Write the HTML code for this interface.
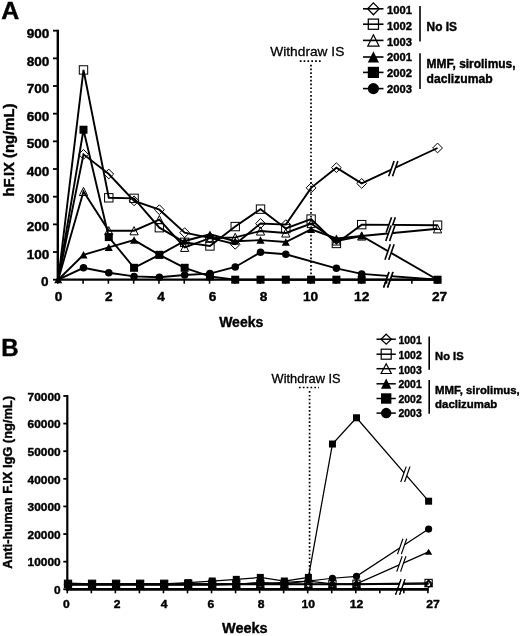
<!DOCTYPE html>
<html><head><meta charset="utf-8"><title>Figure</title>
<style>html,body{margin:0;padding:0;background:#fff}svg{display:block}</style>
</head><body>
<svg width="520" height="636" viewBox="0 0 520 636">
<rect width="520" height="636" fill="#fff"/>
<path d="M299.80 61.10H321.20" stroke="#000" stroke-width="1.7" stroke-dasharray="1.7 2.13" fill="none"/>
<path d="M311.00 64.70V279.00" stroke="#000" stroke-width="1.7" stroke-dasharray="1.7 2.08" fill="none"/>
<polyline points="58.20,279.70 83.49,154.35 108.78,174.00 134.07,200.84 159.36,209.69 184.65,232.66 209.94,237.92 235.23,244.28 260.52,223.53 285.81,224.64 311.10,187.84 336.39,167.64 361.68,183.41 437.55,147.99" fill="none" stroke="#000" stroke-width="1.9" stroke-linejoin="miter"/>
<polyline points="58.20,279.70 83.49,69.96 108.78,197.80 134.07,198.35 159.36,227.68 184.65,242.35 209.94,245.94 235.23,226.57 260.52,209.14 285.81,228.51 311.10,219.10 336.39,243.45 361.68,224.64 437.55,225.19" fill="none" stroke="#000" stroke-width="1.9" stroke-linejoin="miter"/>
<polyline points="58.20,279.70 83.49,191.43 108.78,230.72 134.07,230.72 159.36,219.66 184.65,247.33 209.94,238.19 235.23,237.36 260.52,231.00 285.81,232.94 311.10,223.53 336.39,240.96 361.68,235.98 437.55,228.79" fill="none" stroke="#000" stroke-width="1.9" stroke-linejoin="miter"/>
<polyline points="58.20,279.70 83.49,254.80 108.78,247.33 134.07,240.13 159.36,254.80 184.65,240.96 209.94,234.32 235.23,241.24 260.52,240.13 285.81,242.07 311.10,229.34 336.39,238.47 361.68,235.98 437.55,279.70" fill="none" stroke="#000" stroke-width="1.9" stroke-linejoin="miter"/>
<polyline points="58.20,279.70 83.49,129.73 108.78,237.09 134.07,267.80 159.36,254.80 184.65,267.80 209.94,276.38 235.23,279.70 260.52,279.70 285.81,279.70 311.10,279.70 336.39,279.70 361.68,279.70 437.55,279.70" fill="none" stroke="#000" stroke-width="1.9" stroke-linejoin="miter"/>
<polyline points="58.20,279.70 83.49,267.80 108.78,272.78 134.07,276.38 159.36,277.21 184.65,275.00 209.94,273.61 235.23,266.97 260.52,252.31 285.81,254.24 336.39,268.36 361.68,273.89 437.55,279.70" fill="none" stroke="#000" stroke-width="1.9" stroke-linejoin="miter"/>
<path d="M394.10 160.95L397.90 160.95L392.50 176.35L388.70 176.35Z" fill="#fff"/><path d="M394.10 160.95L388.70 176.35M397.90 160.95L392.50 176.35" stroke="#000" stroke-width="1.615" fill="none"/>
<path d="M391.57 217.15L395.37 217.15L389.97 232.55L386.17 232.55Z" fill="#fff"/><path d="M391.57 217.15L386.17 232.55M395.37 217.15L389.97 232.55" stroke="#000" stroke-width="1.615" fill="none"/>
<path d="M391.19 225.56L394.99 225.56L389.59 240.96L385.79 240.96Z" fill="#fff"/><path d="M391.19 225.56L385.79 240.96M394.99 225.56L389.59 240.96" stroke="#000" stroke-width="1.615" fill="none"/>
<path d="M390.34 244.34L394.14 244.34L388.74 259.74L384.94 259.74Z" fill="#fff"/><path d="M390.34 244.34L384.94 259.74M394.14 244.34L388.74 259.74" stroke="#000" stroke-width="1.615" fill="none"/>
<path d="M389.10 272.00L392.90 272.00L387.50 287.40L383.70 287.40Z" fill="#fff"/><path d="M389.10 272.00L383.70 287.40M392.90 272.00L387.50 287.40" stroke="#000" stroke-width="1.615" fill="none"/>
<path d="M389.10 272.00L392.90 272.00L387.50 287.40L383.70 287.40Z" fill="#fff"/><path d="M389.10 272.00L383.70 287.40M392.90 272.00L387.50 287.40" stroke="#000" stroke-width="1.615" fill="none"/>
<path d="M83.49 149.45L88.39 154.35L83.49 159.25L78.59 154.35Z" fill="none" stroke="#000" stroke-width="1.0"/>
<path d="M108.78 169.10L113.68 174.00L108.78 178.90L103.88 174.00Z" fill="none" stroke="#000" stroke-width="1.0"/>
<path d="M134.07 195.94L138.97 200.84L134.07 205.74L129.17 200.84Z" fill="none" stroke="#000" stroke-width="1.0"/>
<path d="M159.36 204.79L164.26 209.69L159.36 214.59L154.46 209.69Z" fill="none" stroke="#000" stroke-width="1.0"/>
<path d="M184.65 227.76L189.55 232.66L184.65 237.56L179.75 232.66Z" fill="none" stroke="#000" stroke-width="1.0"/>
<path d="M209.94 233.02L214.84 237.92L209.94 242.82L205.04 237.92Z" fill="none" stroke="#000" stroke-width="1.0"/>
<path d="M235.23 239.38L240.13 244.28L235.23 249.18L230.33 244.28Z" fill="none" stroke="#000" stroke-width="1.0"/>
<path d="M260.52 218.63L265.42 223.53L260.52 228.43L255.62 223.53Z" fill="none" stroke="#000" stroke-width="1.0"/>
<path d="M285.81 219.74L290.71 224.64L285.81 229.54L280.91 224.64Z" fill="none" stroke="#000" stroke-width="1.0"/>
<path d="M311.10 182.94L316.00 187.84L311.10 192.74L306.20 187.84Z" fill="none" stroke="#000" stroke-width="1.0"/>
<path d="M336.39 162.74L341.29 167.64L336.39 172.54L331.49 167.64Z" fill="none" stroke="#000" stroke-width="1.0"/>
<path d="M361.68 178.51L366.58 183.41L361.68 188.31L356.78 183.41Z" fill="none" stroke="#000" stroke-width="1.0"/>
<path d="M437.55 143.09L442.45 147.99L437.55 152.89L432.65 147.99Z" fill="none" stroke="#000" stroke-width="1.0"/>
<rect x="79.29" y="65.76" width="8.40" height="8.40" fill="none" stroke="#000" stroke-width="1.0"/>
<rect x="104.58" y="193.60" width="8.40" height="8.40" fill="none" stroke="#000" stroke-width="1.0"/>
<rect x="129.87" y="194.15" width="8.40" height="8.40" fill="none" stroke="#000" stroke-width="1.0"/>
<rect x="155.16" y="223.48" width="8.40" height="8.40" fill="none" stroke="#000" stroke-width="1.0"/>
<rect x="180.45" y="238.15" width="8.40" height="8.40" fill="none" stroke="#000" stroke-width="1.0"/>
<rect x="205.74" y="241.74" width="8.40" height="8.40" fill="none" stroke="#000" stroke-width="1.0"/>
<rect x="231.03" y="222.37" width="8.40" height="8.40" fill="none" stroke="#000" stroke-width="1.0"/>
<rect x="256.32" y="204.94" width="8.40" height="8.40" fill="none" stroke="#000" stroke-width="1.0"/>
<rect x="281.61" y="224.31" width="8.40" height="8.40" fill="none" stroke="#000" stroke-width="1.0"/>
<rect x="306.90" y="214.90" width="8.40" height="8.40" fill="none" stroke="#000" stroke-width="1.0"/>
<rect x="332.19" y="239.25" width="8.40" height="8.40" fill="none" stroke="#000" stroke-width="1.0"/>
<rect x="357.48" y="220.44" width="8.40" height="8.40" fill="none" stroke="#000" stroke-width="1.0"/>
<rect x="433.35" y="220.99" width="8.40" height="8.40" fill="none" stroke="#000" stroke-width="1.0"/>
<path d="M83.49 187.33L87.59 195.53L79.39 195.53Z" fill="none" stroke="#000" stroke-width="1.0"/>
<path d="M108.78 226.62L112.88 234.82L104.68 234.82Z" fill="none" stroke="#000" stroke-width="1.0"/>
<path d="M134.07 226.62L138.17 234.82L129.97 234.82Z" fill="none" stroke="#000" stroke-width="1.0"/>
<path d="M159.36 215.56L163.46 223.76L155.26 223.76Z" fill="none" stroke="#000" stroke-width="1.0"/>
<path d="M184.65 243.23L188.75 251.43L180.55 251.43Z" fill="none" stroke="#000" stroke-width="1.0"/>
<path d="M209.94 234.09L214.04 242.29L205.84 242.29Z" fill="none" stroke="#000" stroke-width="1.0"/>
<path d="M235.23 233.26L239.33 241.46L231.13 241.46Z" fill="none" stroke="#000" stroke-width="1.0"/>
<path d="M260.52 226.90L264.62 235.10L256.42 235.10Z" fill="none" stroke="#000" stroke-width="1.0"/>
<path d="M285.81 228.84L289.91 237.04L281.71 237.04Z" fill="none" stroke="#000" stroke-width="1.0"/>
<path d="M311.10 219.43L315.20 227.63L307.00 227.63Z" fill="none" stroke="#000" stroke-width="1.0"/>
<path d="M336.39 236.86L340.49 245.06L332.29 245.06Z" fill="none" stroke="#000" stroke-width="1.0"/>
<path d="M361.68 231.88L365.78 240.08L357.58 240.08Z" fill="none" stroke="#000" stroke-width="1.0"/>
<path d="M437.55 224.69L441.65 232.89L433.45 232.89Z" fill="none" stroke="#000" stroke-width="1.0"/>
<path d="M58.20 275.80L62.25 283.30L54.15 283.30Z" fill="#000"/>
<path d="M83.49 250.90L87.54 258.40L79.44 258.40Z" fill="#000"/>
<path d="M108.78 243.43L112.83 250.93L104.73 250.93Z" fill="#000"/>
<path d="M134.07 236.23L138.12 243.73L130.02 243.73Z" fill="#000"/>
<path d="M159.36 250.90L163.41 258.40L155.31 258.40Z" fill="#000"/>
<path d="M184.65 237.06L188.70 244.56L180.60 244.56Z" fill="#000"/>
<path d="M209.94 230.42L213.99 237.92L205.89 237.92Z" fill="#000"/>
<path d="M235.23 237.34L239.28 244.84L231.18 244.84Z" fill="#000"/>
<path d="M260.52 236.23L264.57 243.73L256.47 243.73Z" fill="#000"/>
<path d="M285.81 238.17L289.86 245.67L281.76 245.67Z" fill="#000"/>
<path d="M311.10 225.44L315.15 232.94L307.05 232.94Z" fill="#000"/>
<path d="M336.39 234.57L340.44 242.07L332.34 242.07Z" fill="#000"/>
<path d="M361.68 232.08L365.73 239.58L357.63 239.58Z" fill="#000"/>
<path d="M437.55 275.80L441.60 283.30L433.50 283.30Z" fill="#000"/>
<rect x="79.49" y="125.73" width="8.00" height="8.00" fill="#000"/>
<rect x="104.78" y="233.09" width="8.00" height="8.00" fill="#000"/>
<rect x="130.07" y="263.80" width="8.00" height="8.00" fill="#000"/>
<rect x="155.36" y="250.80" width="8.00" height="8.00" fill="#000"/>
<rect x="180.65" y="263.80" width="8.00" height="8.00" fill="#000"/>
<rect x="205.94" y="272.38" width="8.00" height="8.00" fill="#000"/>
<rect x="231.23" y="275.70" width="8.00" height="8.00" fill="#000"/>
<rect x="256.52" y="275.70" width="8.00" height="8.00" fill="#000"/>
<rect x="281.81" y="275.70" width="8.00" height="8.00" fill="#000"/>
<rect x="307.10" y="275.70" width="8.00" height="8.00" fill="#000"/>
<rect x="332.39" y="275.70" width="8.00" height="8.00" fill="#000"/>
<rect x="357.68" y="275.70" width="8.00" height="8.00" fill="#000"/>
<rect x="433.55" y="275.70" width="8.00" height="8.00" fill="#000"/>
<circle cx="83.49" cy="267.80" r="3.75" fill="#000"/>
<circle cx="108.78" cy="272.78" r="3.75" fill="#000"/>
<circle cx="134.07" cy="276.38" r="3.75" fill="#000"/>
<circle cx="159.36" cy="277.21" r="3.75" fill="#000"/>
<circle cx="184.65" cy="275.00" r="3.75" fill="#000"/>
<circle cx="209.94" cy="273.61" r="3.75" fill="#000"/>
<circle cx="235.23" cy="266.97" r="3.75" fill="#000"/>
<circle cx="260.52" cy="252.31" r="3.75" fill="#000"/>
<circle cx="285.81" cy="254.24" r="3.75" fill="#000"/>
<circle cx="336.39" cy="268.36" r="3.75" fill="#000"/>
<circle cx="361.68" cy="273.89" r="3.75" fill="#000"/>
<circle cx="437.55" cy="279.70" r="3.75" fill="#000"/>
<path d="M57.80 29.77V280.80" stroke="#000" stroke-width="2.4" fill="none"/>
<path d="M56.60 279.70H441.00" stroke="#000" stroke-width="2.2" fill="none"/>
<path d="M53.00 279.70H57.80" stroke="#000" stroke-width="1.8"/>
<path d="M53.00 252.03H57.80" stroke="#000" stroke-width="1.8"/>
<path d="M53.00 224.36H57.80" stroke="#000" stroke-width="1.8"/>
<path d="M53.00 196.69H57.80" stroke="#000" stroke-width="1.8"/>
<path d="M53.00 169.02H57.80" stroke="#000" stroke-width="1.8"/>
<path d="M53.00 141.35H57.80" stroke="#000" stroke-width="1.8"/>
<path d="M53.00 113.68H57.80" stroke="#000" stroke-width="1.8"/>
<path d="M53.00 86.01H57.80" stroke="#000" stroke-width="1.8"/>
<path d="M53.00 58.34H57.80" stroke="#000" stroke-width="1.8"/>
<path d="M53.00 30.67H57.80" stroke="#000" stroke-width="1.8"/>
<path d="M57.80 279.70V283.70" stroke="#000" stroke-width="1.6"/>
<path d="M83.09 279.70V283.70" stroke="#000" stroke-width="1.6"/>
<path d="M108.38 279.70V283.70" stroke="#000" stroke-width="1.6"/>
<path d="M133.67 279.70V283.70" stroke="#000" stroke-width="1.6"/>
<path d="M158.96 279.70V283.70" stroke="#000" stroke-width="1.6"/>
<path d="M184.25 279.70V283.70" stroke="#000" stroke-width="1.6"/>
<path d="M209.54 279.70V283.70" stroke="#000" stroke-width="1.6"/>
<path d="M234.83 279.70V283.70" stroke="#000" stroke-width="1.6"/>
<path d="M260.12 279.70V283.70" stroke="#000" stroke-width="1.6"/>
<path d="M285.41 279.70V283.70" stroke="#000" stroke-width="1.6"/>
<path d="M310.70 279.70V283.70" stroke="#000" stroke-width="1.6"/>
<path d="M335.99 279.70V283.70" stroke="#000" stroke-width="1.6"/>
<path d="M361.28 279.70V283.70" stroke="#000" stroke-width="1.6"/>
<path d="M386.57 279.70V283.70" stroke="#000" stroke-width="1.6"/>
<path d="M411.86 279.70V283.70" stroke="#000" stroke-width="1.6"/>
<path d="M437.15 279.70V283.70" stroke="#000" stroke-width="1.6"/>
<text x="48.50" y="286.07" font-size="13.3" font-family="Liberation Sans, Arial, Helvetica, sans-serif" font-weight="bold" stroke="#000" stroke-width="0.4" stroke-linejoin="round" text-anchor="end" textLength="7.55" lengthAdjust="spacingAndGlyphs">0</text>
<text x="49.30" y="258.54" font-size="13.3" font-family="Liberation Sans, Arial, Helvetica, sans-serif" font-weight="bold" stroke="#000" stroke-width="0.4" stroke-linejoin="round" text-anchor="end" textLength="22.65" lengthAdjust="spacingAndGlyphs">100</text>
<text x="49.30" y="231.01" font-size="13.3" font-family="Liberation Sans, Arial, Helvetica, sans-serif" font-weight="bold" stroke="#000" stroke-width="0.4" stroke-linejoin="round" text-anchor="end" textLength="22.65" lengthAdjust="spacingAndGlyphs">200</text>
<text x="49.30" y="203.48" font-size="13.3" font-family="Liberation Sans, Arial, Helvetica, sans-serif" font-weight="bold" stroke="#000" stroke-width="0.4" stroke-linejoin="round" text-anchor="end" textLength="22.65" lengthAdjust="spacingAndGlyphs">300</text>
<text x="49.30" y="175.95" font-size="13.3" font-family="Liberation Sans, Arial, Helvetica, sans-serif" font-weight="bold" stroke="#000" stroke-width="0.4" stroke-linejoin="round" text-anchor="end" textLength="22.65" lengthAdjust="spacingAndGlyphs">400</text>
<text x="49.30" y="148.42" font-size="13.3" font-family="Liberation Sans, Arial, Helvetica, sans-serif" font-weight="bold" stroke="#000" stroke-width="0.4" stroke-linejoin="round" text-anchor="end" textLength="22.65" lengthAdjust="spacingAndGlyphs">500</text>
<text x="49.30" y="120.89" font-size="13.3" font-family="Liberation Sans, Arial, Helvetica, sans-serif" font-weight="bold" stroke="#000" stroke-width="0.4" stroke-linejoin="round" text-anchor="end" textLength="22.65" lengthAdjust="spacingAndGlyphs">600</text>
<text x="49.30" y="93.36" font-size="13.3" font-family="Liberation Sans, Arial, Helvetica, sans-serif" font-weight="bold" stroke="#000" stroke-width="0.4" stroke-linejoin="round" text-anchor="end" textLength="22.65" lengthAdjust="spacingAndGlyphs">700</text>
<text x="49.30" y="65.83" font-size="13.3" font-family="Liberation Sans, Arial, Helvetica, sans-serif" font-weight="bold" stroke="#000" stroke-width="0.4" stroke-linejoin="round" text-anchor="end" textLength="22.65" lengthAdjust="spacingAndGlyphs">800</text>
<text x="49.30" y="38.30" font-size="13.3" font-family="Liberation Sans, Arial, Helvetica, sans-serif" font-weight="bold" stroke="#000" stroke-width="0.4" stroke-linejoin="round" text-anchor="end" textLength="22.65" lengthAdjust="spacingAndGlyphs">900</text>
<text x="58.65" y="300.70" font-size="12.8" font-family="Liberation Sans, Arial, Helvetica, sans-serif" font-weight="bold" stroke="#000" stroke-width="0.4" stroke-linejoin="round" text-anchor="middle" textLength="7.60" lengthAdjust="spacingAndGlyphs">0</text>
<text x="108.85" y="300.70" font-size="12.8" font-family="Liberation Sans, Arial, Helvetica, sans-serif" font-weight="bold" stroke="#000" stroke-width="0.4" stroke-linejoin="round" text-anchor="middle" textLength="7.60" lengthAdjust="spacingAndGlyphs">2</text>
<text x="161.15" y="300.70" font-size="12.8" font-family="Liberation Sans, Arial, Helvetica, sans-serif" font-weight="bold" stroke="#000" stroke-width="0.4" stroke-linejoin="round" text-anchor="middle" textLength="7.60" lengthAdjust="spacingAndGlyphs">4</text>
<text x="212.50" y="300.70" font-size="12.8" font-family="Liberation Sans, Arial, Helvetica, sans-serif" font-weight="bold" stroke="#000" stroke-width="0.4" stroke-linejoin="round" text-anchor="middle" textLength="7.60" lengthAdjust="spacingAndGlyphs">6</text>
<text x="263.60" y="300.70" font-size="12.8" font-family="Liberation Sans, Arial, Helvetica, sans-serif" font-weight="bold" stroke="#000" stroke-width="0.4" stroke-linejoin="round" text-anchor="middle" textLength="7.60" lengthAdjust="spacingAndGlyphs">8</text>
<text x="310.60" y="300.70" font-size="12.8" font-family="Liberation Sans, Arial, Helvetica, sans-serif" font-weight="bold" stroke="#000" stroke-width="0.4" stroke-linejoin="round" text-anchor="middle" textLength="15.20" lengthAdjust="spacingAndGlyphs">10</text>
<text x="361.70" y="300.70" font-size="12.8" font-family="Liberation Sans, Arial, Helvetica, sans-serif" font-weight="bold" stroke="#000" stroke-width="0.4" stroke-linejoin="round" text-anchor="middle" textLength="15.20" lengthAdjust="spacingAndGlyphs">12</text>
<text x="439.50" y="300.70" font-size="12.8" font-family="Liberation Sans, Arial, Helvetica, sans-serif" font-weight="bold" stroke="#000" stroke-width="0.4" stroke-linejoin="round" text-anchor="middle" textLength="15.20" lengthAdjust="spacingAndGlyphs">27</text>
<text x="241.20" y="327.20" font-size="14" font-family="Liberation Sans, Arial, Helvetica, sans-serif" font-weight="bold" stroke="#000" stroke-width="0.4" stroke-linejoin="round" text-anchor="middle">Weeks</text>
<text x="14.30" y="196.60" font-size="14" font-family="Liberation Sans, Arial, Helvetica, sans-serif" font-weight="bold" stroke="#000" stroke-width="0.4" stroke-linejoin="round" textLength="93.00" lengthAdjust="spacingAndGlyphs" transform="rotate(-90 14.30 196.60)">hF.IX (ng/mL)</text>
<text x="1.20" y="18.60" font-size="24" font-family="Liberation Sans, Arial, Helvetica, sans-serif" font-weight="bold" stroke="#000" stroke-width="0.4" stroke-linejoin="round" textLength="18.00" lengthAdjust="spacingAndGlyphs">A</text>
<text x="270.30" y="56.00" font-size="13.5" font-family="Liberation Sans, Arial, Helvetica, sans-serif" stroke="#000" stroke-width="0.3" stroke-linejoin="round" textLength="74.00" lengthAdjust="spacingAndGlyphs">Withdraw IS</text>
<path d="M363.00 8.80H383.50" stroke="#000" stroke-width="1.6"/>
<path d="M373.40 2.85L379.20 8.80L373.40 14.75L367.60 8.80Z" fill="none" stroke="#000" stroke-width="1.25"/>
<text x="387.00" y="14.20" font-size="11" font-family="Liberation Sans, Arial, Helvetica, sans-serif" font-weight="bold" stroke="#000" stroke-width="0.4" stroke-linejoin="round" textLength="24.90" lengthAdjust="spacingAndGlyphs">1001</text>
<path d="M363.00 24.20H383.50" stroke="#000" stroke-width="1.6"/>
<rect x="368.30" y="19.10" width="10.20" height="10.20" fill="none" stroke="#000" stroke-width="1.25"/>
<text x="387.00" y="29.60" font-size="11" font-family="Liberation Sans, Arial, Helvetica, sans-serif" font-weight="bold" stroke="#000" stroke-width="0.4" stroke-linejoin="round" textLength="24.90" lengthAdjust="spacingAndGlyphs">1002</text>
<path d="M363.00 40.40H383.50" stroke="#000" stroke-width="1.6"/>
<path d="M373.40 34.80L379.00 46.00L367.80 46.00Z" fill="none" stroke="#000" stroke-width="1.25"/>
<text x="387.00" y="45.60" font-size="11" font-family="Liberation Sans, Arial, Helvetica, sans-serif" font-weight="bold" stroke="#000" stroke-width="0.4" stroke-linejoin="round" textLength="24.90" lengthAdjust="spacingAndGlyphs">1003</text>
<path d="M363.00 57.00H383.50" stroke="#000" stroke-width="1.6"/>
<path d="M373.40 51.20L379.00 62.40L367.80 62.40Z" fill="#000"/>
<text x="387.00" y="61.30" font-size="11" font-family="Liberation Sans, Arial, Helvetica, sans-serif" font-weight="bold" stroke="#000" stroke-width="0.4" stroke-linejoin="round" textLength="24.90" lengthAdjust="spacingAndGlyphs">2001</text>
<path d="M363.00 72.40H383.50" stroke="#000" stroke-width="1.6"/>
<rect x="367.80" y="66.80" width="11.20" height="11.20" fill="#000"/>
<text x="387.00" y="77.00" font-size="11" font-family="Liberation Sans, Arial, Helvetica, sans-serif" font-weight="bold" stroke="#000" stroke-width="0.4" stroke-linejoin="round" textLength="24.90" lengthAdjust="spacingAndGlyphs">2002</text>
<path d="M363.00 88.60H383.50" stroke="#000" stroke-width="1.6"/>
<circle cx="373.40" cy="88.60" r="5.60" fill="#000"/>
<text x="387.00" y="93.00" font-size="11" font-family="Liberation Sans, Arial, Helvetica, sans-serif" font-weight="bold" stroke="#000" stroke-width="0.4" stroke-linejoin="round" textLength="24.90" lengthAdjust="spacingAndGlyphs">2003</text>
<path d="M420.00 5.90V41.60" stroke="#000" stroke-width="1.6"/>
<path d="M420.00 53.20V89.00" stroke="#000" stroke-width="1.6"/>
<text x="426.60" y="30.60" font-size="12" font-family="Liberation Sans, Arial, Helvetica, sans-serif" font-weight="bold" stroke="#000" stroke-width="0.4" stroke-linejoin="round" textLength="30.40" lengthAdjust="spacingAndGlyphs">No IS</text>
<text x="426.60" y="67.50" font-size="12" font-family="Liberation Sans, Arial, Helvetica, sans-serif" font-weight="bold" stroke="#000" stroke-width="0.4" stroke-linejoin="round" textLength="89.00" lengthAdjust="spacingAndGlyphs">MMF, sirolimus,</text>
<text x="426.60" y="82.60" font-size="12" font-family="Liberation Sans, Arial, Helvetica, sans-serif" font-weight="bold" stroke="#000" stroke-width="0.4" stroke-linejoin="round" textLength="66.00" lengthAdjust="spacingAndGlyphs">daclizumab</text>
<path d="M299.00 387.50H319.00" stroke="#000" stroke-width="1.7" stroke-dasharray="1.7 2.13" fill="none"/>
<path d="M309.60 391.10V589.00" stroke="#000" stroke-width="1.7" stroke-dasharray="1.7 2.08" fill="none"/>
<polyline points="68.00,584.33 92.04,584.33 116.08,584.33 140.12,584.33 164.16,584.33 188.20,584.33 212.24,584.33 236.28,584.33 260.32,584.33 284.36,584.33 308.40,584.33 332.44,584.33 356.48,584.33 428.60,583.78" fill="none" stroke="#000" stroke-width="1.25" stroke-linejoin="miter"/>
<polyline points="68.00,583.78 92.04,583.78 116.08,583.78 140.12,583.78 164.16,583.78 188.20,583.78 212.24,583.78 236.28,583.78 260.32,583.78 284.36,583.78 308.40,583.78 332.44,583.78 356.48,583.78 428.60,582.95" fill="none" stroke="#000" stroke-width="1.25" stroke-linejoin="miter"/>
<polyline points="68.00,584.60 92.04,584.60 116.08,584.60 140.12,584.60 164.16,584.60 188.20,584.60 212.24,584.60 236.28,584.60 260.32,584.60 284.36,584.60 308.40,584.60 332.44,584.60 356.48,584.60 428.60,583.78" fill="none" stroke="#000" stroke-width="1.25" stroke-linejoin="miter"/>
<polyline points="68.00,583.22 92.04,583.78 116.08,583.78 140.12,583.78 164.16,583.78 188.20,583.78 212.24,583.78 236.28,583.78 260.32,583.78 284.36,582.39 308.40,581.01 332.44,583.78 356.48,583.78 428.60,551.87" fill="none" stroke="#000" stroke-width="1.25" stroke-linejoin="miter"/>
<polyline points="68.00,583.78 92.04,583.78 116.08,583.78 140.12,583.78 164.16,583.78 188.20,582.67 212.24,581.01 236.28,579.36 260.32,577.42 284.36,581.01 308.40,577.42 332.44,444.02 356.48,417.78 428.60,501.19" fill="none" stroke="#000" stroke-width="1.25" stroke-linejoin="miter"/>
<polyline points="68.00,585.16 92.04,585.16 116.08,585.16 140.12,585.16 164.16,585.16 188.20,585.16 212.24,585.16 236.28,584.33 260.32,582.39 284.36,583.78 332.44,578.25 356.48,576.32 428.60,529.09" fill="none" stroke="#000" stroke-width="1.25" stroke-linejoin="miter"/>
<path d="M401.11 579.20L404.91 579.20L399.51 594.60L395.71 594.60Z" fill="#fff"/><path d="M401.11 579.20L395.71 594.60M404.91 579.20L399.51 594.60" stroke="#000" stroke-width="1.2" fill="none"/>
<path d="M401.11 579.20L404.91 579.20L399.51 594.60L395.71 594.60Z" fill="#fff"/><path d="M401.11 579.20L395.71 594.60M404.91 579.20L399.51 594.60" stroke="#000" stroke-width="1.2" fill="none"/>
<path d="M401.11 579.20L404.91 579.20L399.51 594.60L395.71 594.60Z" fill="#fff"/><path d="M401.11 579.20L395.71 594.60M404.91 579.20L399.51 594.60" stroke="#000" stroke-width="1.2" fill="none"/>
<path d="M402.14 556.23L405.94 556.23L400.54 571.63L396.74 571.63Z" fill="#fff"/><path d="M402.14 556.23L396.74 571.63M405.94 556.23L400.54 571.63" stroke="#000" stroke-width="1.2" fill="none"/>
<path d="M406.17 466.63L409.97 466.63L404.57 482.03L400.77 482.03Z" fill="#fff"/><path d="M406.17 466.63L400.77 482.03M409.97 466.63L404.57 482.03" stroke="#000" stroke-width="1.2" fill="none"/>
<path d="M402.93 538.72L406.73 538.72L401.33 554.12L397.53 554.12Z" fill="#fff"/><path d="M402.93 538.72L397.53 554.12M406.73 538.72L401.33 554.12" stroke="#000" stroke-width="1.2" fill="none"/>
<path d="M68.00 580.63L71.70 584.33L68.00 588.03L64.30 584.33Z" fill="none" stroke="#000" stroke-width="1.1"/>
<path d="M92.04 580.63L95.74 584.33L92.04 588.03L88.34 584.33Z" fill="none" stroke="#000" stroke-width="1.1"/>
<path d="M116.08 580.63L119.78 584.33L116.08 588.03L112.38 584.33Z" fill="none" stroke="#000" stroke-width="1.1"/>
<path d="M140.12 580.63L143.82 584.33L140.12 588.03L136.42 584.33Z" fill="none" stroke="#000" stroke-width="1.1"/>
<path d="M164.16 580.63L167.86 584.33L164.16 588.03L160.46 584.33Z" fill="none" stroke="#000" stroke-width="1.1"/>
<path d="M188.20 580.63L191.90 584.33L188.20 588.03L184.50 584.33Z" fill="none" stroke="#000" stroke-width="1.1"/>
<path d="M212.24 580.63L215.94 584.33L212.24 588.03L208.54 584.33Z" fill="none" stroke="#000" stroke-width="1.1"/>
<path d="M236.28 580.63L239.98 584.33L236.28 588.03L232.58 584.33Z" fill="none" stroke="#000" stroke-width="1.1"/>
<path d="M260.32 580.63L264.02 584.33L260.32 588.03L256.62 584.33Z" fill="none" stroke="#000" stroke-width="1.1"/>
<path d="M284.36 580.63L288.06 584.33L284.36 588.03L280.66 584.33Z" fill="none" stroke="#000" stroke-width="1.1"/>
<path d="M308.40 580.63L312.10 584.33L308.40 588.03L304.70 584.33Z" fill="none" stroke="#000" stroke-width="1.1"/>
<path d="M332.44 580.63L336.14 584.33L332.44 588.03L328.74 584.33Z" fill="none" stroke="#000" stroke-width="1.1"/>
<path d="M356.48 580.63L360.18 584.33L356.48 588.03L352.78 584.33Z" fill="none" stroke="#000" stroke-width="1.1"/>
<path d="M428.60 580.08L432.30 583.78L428.60 587.48L424.90 583.78Z" fill="none" stroke="#000" stroke-width="1.1"/>
<rect x="64.40" y="580.18" width="7.20" height="7.20" fill="none" stroke="#000" stroke-width="1.1"/>
<rect x="88.44" y="580.18" width="7.20" height="7.20" fill="none" stroke="#000" stroke-width="1.1"/>
<rect x="112.48" y="580.18" width="7.20" height="7.20" fill="none" stroke="#000" stroke-width="1.1"/>
<rect x="136.52" y="580.18" width="7.20" height="7.20" fill="none" stroke="#000" stroke-width="1.1"/>
<rect x="160.56" y="580.18" width="7.20" height="7.20" fill="none" stroke="#000" stroke-width="1.1"/>
<rect x="184.60" y="580.18" width="7.20" height="7.20" fill="none" stroke="#000" stroke-width="1.1"/>
<rect x="208.64" y="580.18" width="7.20" height="7.20" fill="none" stroke="#000" stroke-width="1.1"/>
<rect x="232.68" y="580.18" width="7.20" height="7.20" fill="none" stroke="#000" stroke-width="1.1"/>
<rect x="256.72" y="580.18" width="7.20" height="7.20" fill="none" stroke="#000" stroke-width="1.1"/>
<rect x="280.76" y="580.18" width="7.20" height="7.20" fill="none" stroke="#000" stroke-width="1.1"/>
<rect x="304.80" y="580.18" width="7.20" height="7.20" fill="none" stroke="#000" stroke-width="1.1"/>
<rect x="328.84" y="580.18" width="7.20" height="7.20" fill="none" stroke="#000" stroke-width="1.1"/>
<rect x="352.88" y="580.18" width="7.20" height="7.20" fill="none" stroke="#000" stroke-width="1.1"/>
<rect x="425.00" y="579.35" width="7.20" height="7.20" fill="none" stroke="#000" stroke-width="1.1"/>
<path d="M68.00 581.20L71.40 587.60L64.60 587.60Z" fill="none" stroke="#000" stroke-width="1.1"/>
<path d="M92.04 581.20L95.44 587.60L88.64 587.60Z" fill="none" stroke="#000" stroke-width="1.1"/>
<path d="M116.08 581.20L119.48 587.60L112.68 587.60Z" fill="none" stroke="#000" stroke-width="1.1"/>
<path d="M140.12 581.20L143.52 587.60L136.72 587.60Z" fill="none" stroke="#000" stroke-width="1.1"/>
<path d="M164.16 581.20L167.56 587.60L160.76 587.60Z" fill="none" stroke="#000" stroke-width="1.1"/>
<path d="M188.20 581.20L191.60 587.60L184.80 587.60Z" fill="none" stroke="#000" stroke-width="1.1"/>
<path d="M212.24 581.20L215.64 587.60L208.84 587.60Z" fill="none" stroke="#000" stroke-width="1.1"/>
<path d="M236.28 581.20L239.68 587.60L232.88 587.60Z" fill="none" stroke="#000" stroke-width="1.1"/>
<path d="M260.32 581.20L263.72 587.60L256.92 587.60Z" fill="none" stroke="#000" stroke-width="1.1"/>
<path d="M284.36 581.20L287.76 587.60L280.96 587.60Z" fill="none" stroke="#000" stroke-width="1.1"/>
<path d="M308.40 581.20L311.80 587.60L305.00 587.60Z" fill="none" stroke="#000" stroke-width="1.1"/>
<path d="M332.44 581.20L335.84 587.60L329.04 587.60Z" fill="none" stroke="#000" stroke-width="1.1"/>
<path d="M356.48 581.20L359.88 587.60L353.08 587.60Z" fill="none" stroke="#000" stroke-width="1.1"/>
<path d="M428.60 580.38L432.00 586.78L425.20 586.78Z" fill="none" stroke="#000" stroke-width="1.1"/>
<path d="M68.00 580.02L71.65 586.02L64.35 586.02Z" fill="#000"/>
<path d="M92.04 580.58L95.69 586.58L88.39 586.58Z" fill="#000"/>
<path d="M116.08 580.58L119.73 586.58L112.43 586.58Z" fill="#000"/>
<path d="M140.12 580.58L143.77 586.58L136.47 586.58Z" fill="#000"/>
<path d="M164.16 580.58L167.81 586.58L160.51 586.58Z" fill="#000"/>
<path d="M188.20 580.58L191.85 586.58L184.55 586.58Z" fill="#000"/>
<path d="M212.24 580.58L215.89 586.58L208.59 586.58Z" fill="#000"/>
<path d="M236.28 580.58L239.93 586.58L232.63 586.58Z" fill="#000"/>
<path d="M260.32 580.58L263.97 586.58L256.67 586.58Z" fill="#000"/>
<path d="M284.36 579.19L288.01 585.19L280.71 585.19Z" fill="#000"/>
<path d="M308.40 577.81L312.05 583.81L304.75 583.81Z" fill="#000"/>
<path d="M332.44 580.58L336.09 586.58L328.79 586.58Z" fill="#000"/>
<path d="M356.48 580.58L360.13 586.58L352.83 586.58Z" fill="#000"/>
<path d="M428.60 548.67L432.25 554.67L424.95 554.67Z" fill="#000"/>
<rect x="64.50" y="580.28" width="7.00" height="7.00" fill="#000"/>
<rect x="88.54" y="580.28" width="7.00" height="7.00" fill="#000"/>
<rect x="112.58" y="580.28" width="7.00" height="7.00" fill="#000"/>
<rect x="136.62" y="580.28" width="7.00" height="7.00" fill="#000"/>
<rect x="160.66" y="580.28" width="7.00" height="7.00" fill="#000"/>
<rect x="184.70" y="579.17" width="7.00" height="7.00" fill="#000"/>
<rect x="208.74" y="577.51" width="7.00" height="7.00" fill="#000"/>
<rect x="232.78" y="575.86" width="7.00" height="7.00" fill="#000"/>
<rect x="256.82" y="573.92" width="7.00" height="7.00" fill="#000"/>
<rect x="280.86" y="577.51" width="7.00" height="7.00" fill="#000"/>
<rect x="304.90" y="573.92" width="7.00" height="7.00" fill="#000"/>
<rect x="328.94" y="440.52" width="7.00" height="7.00" fill="#000"/>
<rect x="352.98" y="414.28" width="7.00" height="7.00" fill="#000"/>
<rect x="425.10" y="497.69" width="7.00" height="7.00" fill="#000"/>
<circle cx="68.00" cy="585.16" r="3.60" fill="#000"/>
<circle cx="92.04" cy="585.16" r="3.60" fill="#000"/>
<circle cx="116.08" cy="585.16" r="3.60" fill="#000"/>
<circle cx="140.12" cy="585.16" r="3.60" fill="#000"/>
<circle cx="164.16" cy="585.16" r="3.60" fill="#000"/>
<circle cx="188.20" cy="585.16" r="3.60" fill="#000"/>
<circle cx="212.24" cy="585.16" r="3.60" fill="#000"/>
<circle cx="236.28" cy="584.33" r="3.60" fill="#000"/>
<circle cx="260.32" cy="582.39" r="3.60" fill="#000"/>
<circle cx="284.36" cy="583.78" r="3.60" fill="#000"/>
<circle cx="332.44" cy="578.25" r="3.60" fill="#000"/>
<circle cx="356.48" cy="576.32" r="3.60" fill="#000"/>
<circle cx="428.60" cy="529.09" r="3.60" fill="#000"/>
<path d="M67.30 395.06V590.70" stroke="#000" stroke-width="2.2" fill="none"/>
<path d="M66.20 589.30H428.80" stroke="#000" stroke-width="2.8" fill="none"/>
<path d="M63.30 589.30H67.30" stroke="#000" stroke-width="1.8"/>
<path d="M63.30 561.68H67.30" stroke="#000" stroke-width="1.8"/>
<path d="M63.30 534.06H67.30" stroke="#000" stroke-width="1.8"/>
<path d="M63.30 506.44H67.30" stroke="#000" stroke-width="1.8"/>
<path d="M63.30 478.82H67.30" stroke="#000" stroke-width="1.8"/>
<path d="M63.30 451.20H67.30" stroke="#000" stroke-width="1.8"/>
<path d="M63.30 423.58H67.30" stroke="#000" stroke-width="1.8"/>
<path d="M63.30 395.96H67.30" stroke="#000" stroke-width="1.8"/>
<path d="M67.30 589.30V593.30" stroke="#000" stroke-width="1.6"/>
<path d="M91.34 589.30V593.30" stroke="#000" stroke-width="1.6"/>
<path d="M115.38 589.30V593.30" stroke="#000" stroke-width="1.6"/>
<path d="M139.42 589.30V593.30" stroke="#000" stroke-width="1.6"/>
<path d="M163.46 589.30V593.30" stroke="#000" stroke-width="1.6"/>
<path d="M187.50 589.30V593.30" stroke="#000" stroke-width="1.6"/>
<path d="M211.54 589.30V593.30" stroke="#000" stroke-width="1.6"/>
<path d="M235.58 589.30V593.30" stroke="#000" stroke-width="1.6"/>
<path d="M259.62 589.30V593.30" stroke="#000" stroke-width="1.6"/>
<path d="M283.66 589.30V593.30" stroke="#000" stroke-width="1.6"/>
<path d="M307.70 589.30V593.30" stroke="#000" stroke-width="1.6"/>
<path d="M331.74 589.30V593.30" stroke="#000" stroke-width="1.6"/>
<path d="M355.78 589.30V593.30" stroke="#000" stroke-width="1.6"/>
<path d="M379.82 589.30V593.30" stroke="#000" stroke-width="1.6"/>
<path d="M403.86 589.30V593.30" stroke="#000" stroke-width="1.6"/>
<path d="M427.90 589.30V593.30" stroke="#000" stroke-width="1.6"/>
<text x="60.60" y="594.00" font-size="11.2" font-family="Liberation Sans, Arial, Helvetica, sans-serif" font-weight="bold" stroke="#000" stroke-width="0.4" stroke-linejoin="round" text-anchor="end" textLength="6.60" lengthAdjust="spacingAndGlyphs">0</text>
<text x="60.60" y="566.38" font-size="11.2" font-family="Liberation Sans, Arial, Helvetica, sans-serif" font-weight="bold" stroke="#000" stroke-width="0.4" stroke-linejoin="round" text-anchor="end" textLength="33.00" lengthAdjust="spacingAndGlyphs">10000</text>
<text x="60.60" y="538.76" font-size="11.2" font-family="Liberation Sans, Arial, Helvetica, sans-serif" font-weight="bold" stroke="#000" stroke-width="0.4" stroke-linejoin="round" text-anchor="end" textLength="33.00" lengthAdjust="spacingAndGlyphs">20000</text>
<text x="60.60" y="511.14" font-size="11.2" font-family="Liberation Sans, Arial, Helvetica, sans-serif" font-weight="bold" stroke="#000" stroke-width="0.4" stroke-linejoin="round" text-anchor="end" textLength="33.00" lengthAdjust="spacingAndGlyphs">30000</text>
<text x="60.60" y="483.52" font-size="11.2" font-family="Liberation Sans, Arial, Helvetica, sans-serif" font-weight="bold" stroke="#000" stroke-width="0.4" stroke-linejoin="round" text-anchor="end" textLength="33.00" lengthAdjust="spacingAndGlyphs">40000</text>
<text x="60.60" y="455.90" font-size="11.2" font-family="Liberation Sans, Arial, Helvetica, sans-serif" font-weight="bold" stroke="#000" stroke-width="0.4" stroke-linejoin="round" text-anchor="end" textLength="33.00" lengthAdjust="spacingAndGlyphs">50000</text>
<text x="60.60" y="428.28" font-size="11.2" font-family="Liberation Sans, Arial, Helvetica, sans-serif" font-weight="bold" stroke="#000" stroke-width="0.4" stroke-linejoin="round" text-anchor="end" textLength="33.00" lengthAdjust="spacingAndGlyphs">60000</text>
<text x="60.60" y="400.66" font-size="11.2" font-family="Liberation Sans, Arial, Helvetica, sans-serif" font-weight="bold" stroke="#000" stroke-width="0.4" stroke-linejoin="round" text-anchor="end" textLength="33.00" lengthAdjust="spacingAndGlyphs">70000</text>
<text x="66.40" y="607.90" font-size="11.2" font-family="Liberation Sans, Arial, Helvetica, sans-serif" font-weight="bold" stroke="#000" stroke-width="0.4" stroke-linejoin="round" text-anchor="middle" textLength="6.75" lengthAdjust="spacingAndGlyphs">0</text>
<text x="117.00" y="607.90" font-size="11.2" font-family="Liberation Sans, Arial, Helvetica, sans-serif" font-weight="bold" stroke="#000" stroke-width="0.4" stroke-linejoin="round" text-anchor="middle" textLength="6.75" lengthAdjust="spacingAndGlyphs">2</text>
<text x="164.20" y="607.90" font-size="11.2" font-family="Liberation Sans, Arial, Helvetica, sans-serif" font-weight="bold" stroke="#000" stroke-width="0.4" stroke-linejoin="round" text-anchor="middle" textLength="6.75" lengthAdjust="spacingAndGlyphs">4</text>
<text x="210.80" y="607.90" font-size="11.2" font-family="Liberation Sans, Arial, Helvetica, sans-serif" font-weight="bold" stroke="#000" stroke-width="0.4" stroke-linejoin="round" text-anchor="middle" textLength="6.75" lengthAdjust="spacingAndGlyphs">6</text>
<text x="261.10" y="607.90" font-size="11.2" font-family="Liberation Sans, Arial, Helvetica, sans-serif" font-weight="bold" stroke="#000" stroke-width="0.4" stroke-linejoin="round" text-anchor="middle" textLength="6.75" lengthAdjust="spacingAndGlyphs">8</text>
<text x="308.30" y="607.90" font-size="11.2" font-family="Liberation Sans, Arial, Helvetica, sans-serif" font-weight="bold" stroke="#000" stroke-width="0.4" stroke-linejoin="round" text-anchor="middle" textLength="13.50" lengthAdjust="spacingAndGlyphs">10</text>
<text x="356.40" y="607.90" font-size="11.2" font-family="Liberation Sans, Arial, Helvetica, sans-serif" font-weight="bold" stroke="#000" stroke-width="0.4" stroke-linejoin="round" text-anchor="middle" textLength="13.50" lengthAdjust="spacingAndGlyphs">12</text>
<text x="432.90" y="607.90" font-size="11.2" font-family="Liberation Sans, Arial, Helvetica, sans-serif" font-weight="bold" stroke="#000" stroke-width="0.4" stroke-linejoin="round" text-anchor="middle" textLength="13.50" lengthAdjust="spacingAndGlyphs">27</text>
<text x="244.80" y="632.70" font-size="14.5" font-family="Liberation Sans, Arial, Helvetica, sans-serif" font-weight="bold" stroke="#000" stroke-width="0.4" stroke-linejoin="round" text-anchor="middle">Weeks</text>
<text x="12.30" y="568.80" font-size="12.5" font-family="Liberation Sans, Arial, Helvetica, sans-serif" font-weight="bold" stroke="#000" stroke-width="0.4" stroke-linejoin="round" textLength="172.80" lengthAdjust="spacingAndGlyphs" transform="rotate(-90 12.30 568.80)">Anti-human F.IX IgG (ng/mL)</text>
<text x="1.20" y="355.90" font-size="24" font-family="Liberation Sans, Arial, Helvetica, sans-serif" font-weight="bold" stroke="#000" stroke-width="0.4" stroke-linejoin="round">B</text>
<text x="271.60" y="382.80" font-size="12.2" font-family="Liberation Sans, Arial, Helvetica, sans-serif" stroke="#000" stroke-width="0.3" stroke-linejoin="round" textLength="69.00" lengthAdjust="spacingAndGlyphs">Withdraw IS</text>
<path d="M376.50 339.20H395.80" stroke="#000" stroke-width="1.5"/>
<path d="M386.20 334.20L391.45 339.20L386.20 344.20L380.95 339.20Z" fill="none" stroke="#000" stroke-width="1.2"/>
<text x="398.50" y="344.20" font-size="10.3" font-family="Liberation Sans, Arial, Helvetica, sans-serif" font-weight="bold" stroke="#000" stroke-width="0.4" stroke-linejoin="round" textLength="23.20" lengthAdjust="spacingAndGlyphs">1001</text>
<path d="M376.50 354.20H395.80" stroke="#000" stroke-width="1.5"/>
<rect x="381.20" y="349.20" width="10.00" height="10.00" fill="none" stroke="#000" stroke-width="1.2"/>
<text x="398.50" y="358.90" font-size="10.3" font-family="Liberation Sans, Arial, Helvetica, sans-serif" font-weight="bold" stroke="#000" stroke-width="0.4" stroke-linejoin="round" textLength="23.20" lengthAdjust="spacingAndGlyphs">1002</text>
<path d="M376.50 368.70H395.80" stroke="#000" stroke-width="1.5"/>
<path d="M386.20 363.80L391.30 373.50L381.10 373.50Z" fill="none" stroke="#000" stroke-width="1.2"/>
<text x="398.50" y="373.50" font-size="10.3" font-family="Liberation Sans, Arial, Helvetica, sans-serif" font-weight="bold" stroke="#000" stroke-width="0.4" stroke-linejoin="round" textLength="23.20" lengthAdjust="spacingAndGlyphs">1003</text>
<path d="M376.50 383.80H395.80" stroke="#000" stroke-width="1.5"/>
<path d="M386.20 378.60L391.40 388.80L381.00 388.80Z" fill="#000"/>
<text x="398.50" y="388.20" font-size="10.3" font-family="Liberation Sans, Arial, Helvetica, sans-serif" font-weight="bold" stroke="#000" stroke-width="0.4" stroke-linejoin="round" textLength="23.20" lengthAdjust="spacingAndGlyphs">2001</text>
<path d="M376.50 398.50H395.80" stroke="#000" stroke-width="1.5"/>
<rect x="381.00" y="393.30" width="10.40" height="10.40" fill="#000"/>
<text x="398.50" y="402.60" font-size="10.3" font-family="Liberation Sans, Arial, Helvetica, sans-serif" font-weight="bold" stroke="#000" stroke-width="0.4" stroke-linejoin="round" textLength="23.20" lengthAdjust="spacingAndGlyphs">2002</text>
<path d="M376.50 413.10H395.80" stroke="#000" stroke-width="1.5"/>
<circle cx="386.20" cy="413.10" r="5.25" fill="#000"/>
<text x="398.50" y="417.40" font-size="10.3" font-family="Liberation Sans, Arial, Helvetica, sans-serif" font-weight="bold" stroke="#000" stroke-width="0.4" stroke-linejoin="round" textLength="23.20" lengthAdjust="spacingAndGlyphs">2003</text>
<path d="M429.20 336.50V369.70" stroke="#000" stroke-width="1.6"/>
<path d="M429.20 380.00V413.80" stroke="#000" stroke-width="1.6"/>
<text x="435.10" y="359.80" font-size="11.2" font-family="Liberation Sans, Arial, Helvetica, sans-serif" font-weight="bold" stroke="#000" stroke-width="0.4" stroke-linejoin="round" textLength="28.50" lengthAdjust="spacingAndGlyphs">No IS</text>
<text x="435.10" y="393.80" font-size="11.2" font-family="Liberation Sans, Arial, Helvetica, sans-serif" font-weight="bold" stroke="#000" stroke-width="0.4" stroke-linejoin="round" textLength="84.60" lengthAdjust="spacingAndGlyphs">MMF, sirolimus,</text>
<text x="435.10" y="407.60" font-size="11.2" font-family="Liberation Sans, Arial, Helvetica, sans-serif" font-weight="bold" stroke="#000" stroke-width="0.4" stroke-linejoin="round" textLength="62.20" lengthAdjust="spacingAndGlyphs">daclizumab</text>
</svg>
</body></html>
